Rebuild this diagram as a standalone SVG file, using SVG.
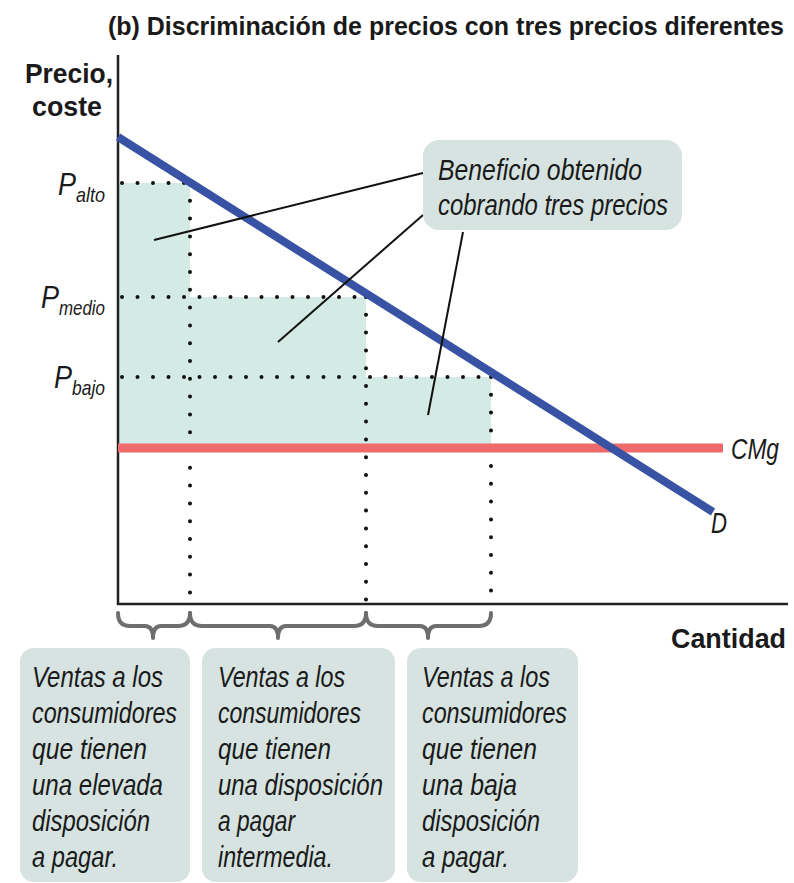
<svg xmlns="http://www.w3.org/2000/svg" width="794" height="883" viewBox="0 0 794 883">
<style>
.t{font-family:"Liberation Sans Narrow","Liberation Sans",Arial,sans-serif;fill:#1a1a1a}
.b{font-weight:bold}
.i{font-style:italic}
.dot{stroke:#111;stroke-width:4;stroke-linecap:round;fill:none}
.lead{stroke:#111;stroke-width:2;fill:none}
.brace{stroke:#6d6e70;stroke-width:4;fill:none;stroke-linecap:round;stroke-linejoin:round}
.box{fill:#d6e3e0}
.area{fill:#d4ebe5}
</style>
<rect width="794" height="883" fill="#fff"/>
<text class="t b" x="784" y="35" font-size="25" text-anchor="end" textLength="676" lengthAdjust="spacingAndGlyphs">(b) Discriminación de precios con tres precios diferentes</text>
<g id="axis-labels">
<text class="t b" x="25" y="83" font-size="28" textLength="88" lengthAdjust="spacingAndGlyphs">Precio,</text>
<text class="t b" x="32" y="116" font-size="28" textLength="70" lengthAdjust="spacingAndGlyphs">coste</text>
<text class="t b" x="786" y="648" font-size="28" text-anchor="end" textLength="115" lengthAdjust="spacingAndGlyphs">Cantidad</text>
</g>
<g id="areas">
<rect class="area" x="118" y="183" width="72" height="265"/>
<rect class="area" x="190" y="297" width="176" height="151"/>
<rect class="area" x="366" y="377" width="125" height="71"/>
</g>
<g id="dotted">
<path class="dot" stroke-dasharray="0 15.5" d="M122 183 H190 M122 297 H366 M122 377 H491"/>
<path class="dot" stroke-dasharray="0 17.8" d="M190 183 V600 M366 297 V600 M491 377 V600"/>
</g>
<g id="axes">
<path d="M118 55 V604 H788" stroke="#222" stroke-width="2.5" fill="none"/>
</g>
<g id="CMg">
<line x1="118" y1="448" x2="723" y2="448" stroke="#ef6b6b" stroke-width="9"/>
<text class="t i" x="731" y="459" font-size="30" textLength="48" lengthAdjust="spacingAndGlyphs">CMg</text>
</g>
<g id="D">
<line x1="118" y1="137" x2="713" y2="512" stroke="#3953a4" stroke-width="8"/>
<text class="t i" x="711" y="533" font-size="30" textLength="16" lengthAdjust="spacingAndGlyphs">D</text>
</g>
<g id="price-labels">
<text class="t i" x="58" y="195" font-size="32"><tspan textLength="18" lengthAdjust="spacingAndGlyphs">P</tspan><tspan font-size="21" dy="7" textLength="29" lengthAdjust="spacingAndGlyphs">alto</tspan></text>
<text class="t i" x="41" y="308" font-size="32"><tspan textLength="18" lengthAdjust="spacingAndGlyphs">P</tspan><tspan font-size="21" dy="7" textLength="46" lengthAdjust="spacingAndGlyphs">medio</tspan></text>
<text class="t i" x="54" y="388" font-size="32"><tspan textLength="18" lengthAdjust="spacingAndGlyphs">P</tspan><tspan font-size="21" dy="7" textLength="33" lengthAdjust="spacingAndGlyphs">bajo</tspan></text>
</g>
<g id="connectors">
<line class="lead" x1="423" y1="173" x2="154" y2="240"/>
<line class="lead" x1="423" y1="215" x2="278" y2="342"/>
<line class="lead" x1="463" y1="232" x2="428" y2="415"/>
</g>
<g id="callout">
<rect class="box" x="423" y="140" width="259" height="90" rx="16"/>
<text class="t i" x="438" y="180" font-size="30" textLength="204" lengthAdjust="spacingAndGlyphs">Beneficio obtenido</text>
<text class="t i" x="438" y="215" font-size="30" textLength="230" lengthAdjust="spacingAndGlyphs">cobrando tres precios</text>
</g>
<g id="braces">
<path class="brace" d="M118 613 Q118 626 130 626 H145 Q153 626 153 638 Q153 626 161 626 H178 Q190 626 190 613"/>
<path class="brace" d="M190 613 Q190 626 202 626 H270 Q278 626 278 638 Q278 626 286 626 H354 Q366 626 366 613"/>
<path class="brace" d="M366 613 Q366 626 378 626 H420 Q428 626 428 638 Q428 626 436 626 H479 Q491 626 491 613"/>
</g>
<g id="box-high">
<rect class="box" x="20" y="648" width="170" height="234" rx="14"/>
<text class="t i" font-size="30">
<tspan x="32" y="687" textLength="131" lengthAdjust="spacingAndGlyphs">Ventas a los</tspan>
<tspan x="32" y="723" textLength="145" lengthAdjust="spacingAndGlyphs">consumidores</tspan>
<tspan x="32" y="759" textLength="115" lengthAdjust="spacingAndGlyphs">que tienen</tspan>
<tspan x="32" y="795" textLength="131" lengthAdjust="spacingAndGlyphs">una elevada</tspan>
<tspan x="32" y="831" textLength="118" lengthAdjust="spacingAndGlyphs">disposición</tspan>
<tspan x="32" y="867" textLength="86" lengthAdjust="spacingAndGlyphs">a pagar.</tspan>
</text>
</g>
<g id="box-mid">
<rect class="box" x="202" y="648" width="193" height="234" rx="14"/>
<text class="t i" font-size="30">
<tspan x="218" y="687" textLength="127" lengthAdjust="spacingAndGlyphs">Ventas a los</tspan>
<tspan x="218" y="723" textLength="143" lengthAdjust="spacingAndGlyphs">consumidores</tspan>
<tspan x="218" y="759" textLength="113" lengthAdjust="spacingAndGlyphs">que tienen</tspan>
<tspan x="218" y="795" textLength="165" lengthAdjust="spacingAndGlyphs">una disposición</tspan>
<tspan x="218" y="831" textLength="77" lengthAdjust="spacingAndGlyphs">a pagar</tspan>
<tspan x="218" y="867" textLength="115" lengthAdjust="spacingAndGlyphs">intermedia.</tspan>
</text>
</g>
<g id="box-low">
<rect class="box" x="407" y="648" width="171" height="234" rx="14"/>
<text class="t i" font-size="30">
<tspan x="422" y="687" textLength="128" lengthAdjust="spacingAndGlyphs">Ventas a los</tspan>
<tspan x="422" y="723" textLength="145" lengthAdjust="spacingAndGlyphs">consumidores</tspan>
<tspan x="422" y="759" textLength="115" lengthAdjust="spacingAndGlyphs">que tienen</tspan>
<tspan x="422" y="795" textLength="95" lengthAdjust="spacingAndGlyphs">una baja</tspan>
<tspan x="422" y="831" textLength="118" lengthAdjust="spacingAndGlyphs">disposición</tspan>
<tspan x="422" y="867" textLength="87" lengthAdjust="spacingAndGlyphs">a pagar.</tspan>
</text>
</g>
</svg>
